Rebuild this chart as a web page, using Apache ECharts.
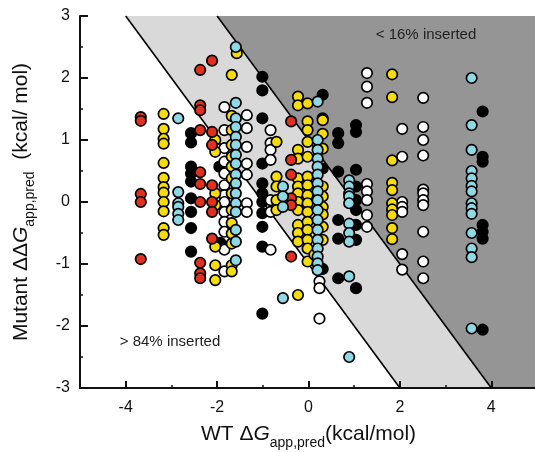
<!DOCTYPE html>
<html>
<head>
<meta charset="utf-8">
<script src="https://cdn.jsdelivr.net/npm/echarts@6/dist/echarts.min.js"></script>
<style>
html, body { margin: 0; padding: 0; background: #fff; }
#chart { width: 535px; height: 452px; }
</style>
</head>
<body>
<div id="chart"></div>
<script>
// one column = one WT residue (same x), several mutants (y)
const col = (x, ys) => ys.map(y => [x, y]);

const redPts = [
    ...col(-3.67, [1.37, 1.31, 0.13, 0.0, -0.92]),
    ...col(-2.37, [2.13, 1.56, 1.48, 1.16, 0.48, 0.29, 0.0, -0.98, -1.15, -1.23]),
    ...col(-2.11, [2.28, 1.13, 0.92, 0.27, 0.0, -0.16, -0.59]),
    ...col(-0.38, [1.30, 0.68, 0.44, 0.06, -0.05, -0.88])
];

const yellowPts = [
    ...col(-3.17, [1.42, 1.18, 1.02, 0.94, 0.63, 0.39, 0.24, 0.15, 0.0, -0.15, -0.42, -0.53]),
    ...col(-2.04, [1.0, 0.81, 0.14, -0.05, -0.72, -1.02, -1.26]),
    ...col(-1.68, [2.05, 1.39, 1.16, 0.92, 0.73, 0.57, 0.38, 0.14, -0.13, -0.34, -0.51, -0.67, -1.02, -1.12]),
    [-1.57, 2.40],
    ...col(-0.70, [0.97, 0.41, 0.25, 0.03, -0.13]),
    ...col(-0.23, [1.70, 1.56, 0.84, 0.70, 0.38, 0.25, 0.14, 0.0, -0.13, -0.37, -0.50, -0.64, -1.50]),
    ...col(-0.02, [1.59, 1.30, 1.16, 0.97, 0.73, 0.41, 0.27, 0.11, -0.02, -0.16, -0.32, -0.45, -0.61, -0.75, -0.96]),
    ...col(0.31, [1.32, 1.10, 0.86, 0.25, 0.09, -0.08, -0.20, -0.40, -0.61]),
    [0.13, -0.85],
    ...col(1.83, [2.06, 1.69, 0.67, 0.31, 0.19, -0.02, -0.12, -0.21, -0.42, -0.60])
];

const bluePts = [
    ...col(-2.85, [1.35, 0.16, -0.02, -0.08, -0.19, -0.29]),
    ...col(-1.59, [2.50, 1.60, 1.35, 1.21, 1.05, 0.92, 0.76, 0.62, 0.44, 0.30, 0.14, -0.02, -0.16, -0.45, -0.64, -0.94]),
    ...col(-0.56, [0.25, 0.09, -0.08, -1.55]),
    ...col(0.20, [1.62, 1.0, 0.84, 0.70, 0.57, 0.44, 0.30, 0.17, 0.03, -0.13, -0.29, -0.45, -0.61, -0.75, -0.88, -0.99, -1.10]),
    ...col(0.89, [0.35, 0.25, 0.14, 0.09, -0.02, -0.35, -0.50, -0.64, -1.20, -2.50]),
    ...col(3.57, [2.0, 1.24, 0.84, 0.50, 0.38, 0.26, 0.17, -0.02, -0.10, -0.19, -0.50, -0.75, -0.89, -2.04])
];

const whitePts = [
    ...col(-1.84, [1.53, 1.16, 0.87, 0.65, 0.46, 0.27, 0.11, 0.0, -0.16, -0.32, -0.48, -0.77, -1.12]),
    ...col(-1.35, [1.40, 1.19, 0.89, 0.62, 0.44, -0.02, -0.16]),
    ...col(-0.83, [1.16, 0.95, 0.84, 0.68, 0.03, -0.16, -0.77]),
    ...col(0.24, [-1.28, -1.39, -1.88]),
    ...col(1.28, [2.08, 1.86, 1.60, 0.29, 0.17, 0.03, -0.21, -0.40]),
    ...col(2.05, [1.18, 0.73, 0.0, -0.08, -0.16, -0.84, -1.09]),
    ...col(2.51, [1.68, 1.21, 1.0, 0.75, 0.20, 0.14, 0.03, -0.05, -0.48, -0.96, -1.23])
];

const blackPts = [
    ...col(-2.57, [1.11, 0.96, 0.57, 0.46, 0.33, 0.06, -0.16, -0.42, -0.80]),
    [-1.95, 0.57], [-1.93, -0.66],
    ...col(-1.01, [2.02, 1.80, 1.35, 0.62, 0.30, 0.14, 0.0, -0.18, -0.40, -0.72, -1.80]),
    ...col(0.31, [1.73, 1.35, 0.54, -1.08]),
    ...col(0.65, [1.11, 0.95, 0.49, -0.29, -0.59, -1.23]),
    ...col(1.04, [1.24, 1.13, 0.52, 0.25, 0.03, -0.13, -0.37, -0.61, -1.39]),
    ...col(3.81, [1.46, 0.73, 0.65, -0.37, -0.48, -0.59, -2.06])
];

// shaded zones (x + y > 1 dark, -1 < x + y < 1 light)
const darkZone = [[-2, 3], [5, 3], [5, -3], [4, -3]];
const lightZone = [[-4, 3], [-2, 3], [4, -3], [2, -3]];
const lowerLine = [[-4, 3], [2, -3]];
const upperLine = [[-2, 3], [4, -3]];

const xLabelTicks = [-4, -2, 0, 2, 4];
const xMinorTicks = [-3, -1, 1, 3];

const FONT = '"Liberation Sans", Arial, Helvetica, sans-serif';

const titleRich = {
    n: { fontSize: 21, fontFamily: FONT, color: '#111', lineHeight: 32, verticalAlign: 'middle' },
    i: { fontSize: 21, fontFamily: FONT, color: '#111', fontStyle: 'italic', lineHeight: 32, verticalAlign: 'middle' },
    s: { fontSize: 14, fontFamily: FONT, color: '#111', lineHeight: 32, verticalAlign: 'bottom' }
};

const dot = (name, pts, color) => ({
    name: name,
    type: 'scatter',
    data: pts,
    symbol: 'circle',
    symbolSize: 10.5,
    itemStyle: { color: color, borderColor: '#000', borderWidth: 1.7, opacity: 1 },
    z: 3
});

const zonePolygon = (api, pts, fill) => ({
    type: 'polygon',
    shape: { points: pts.map(p => api.coord(p)) },
    style: { fill: fill }
});

const chart = echarts.init(document.getElementById('chart'));

const option = {
    animation: false,
    backgroundColor: '#fff',
    grid: { left: 80, right: -2, top: 16, bottom: 64, containLabel: false, outerBoundsMode: 'none' },
    xAxis: [
        {
            type: 'value', min: -5, max: 5,
            nameLocation: 'middle', nameGap: 30,
            name: '{n|WT Δ}{i|G}{s|app,pred}{n|(kcal/mol)}',
            nameTextStyle: { color: '#111', fontFamily: FONT, rich: titleRich },
            axisLine: { show: true, onZero: false, lineStyle: { color: '#111', width: 2 } },
            axisTick: { show: true, inside: true, length: 7, customValues: xLabelTicks, lineStyle: { color: '#111', width: 2 } },
            axisLabel: { customValues: xLabelTicks, color: '#111', fontSize: 16, fontFamily: FONT, margin: 12 },
            splitLine: { show: false }
        },
        {
            type: 'value', min: -5, max: 5, position: 'bottom',
            axisLine: { show: false, onZero: false },
            axisTick: { show: true, inside: true, length: 3, customValues: xMinorTicks, lineStyle: { color: '#111', width: 1.5 } },
            axisLabel: { show: false },
            splitLine: { show: false }
        }
    ],
    yAxis: {
        type: 'value', min: -3, max: 3, interval: 1,
        nameLocation: 'middle', nameGap: 43,
        name: '{n|Mutant ΔΔ}{i|G}{s|app,pred}{n|  (kcal/ mol)}',
        nameTextStyle: { color: '#111', fontFamily: FONT, rich: titleRich },
        axisLine: { show: true, onZero: false, lineStyle: { color: '#111', width: 2 } },
        axisTick: { show: true, inside: true, length: 8, lineStyle: { color: '#111', width: 2 } },
        minorTick: { show: true, splitNumber: 2, length: 3, lineStyle: { color: '#111', width: 1.5 } },
        axisLabel: { color: '#111', fontSize: 16, fontFamily: FONT, margin: 10 },
        splitLine: { show: false }
    },
    graphic: [
        { type: 'text', x: 426, y: 35, z: 10, style: { text: '< 16% inserted', fill: '#222', font: '15px ' + FONT, textAlign: 'center', textVerticalAlign: 'middle' } },
        { type: 'text', x: 170, y: 342, z: 10, style: { text: '> 84% inserted', fill: '#222', font: '15px ' + FONT, textAlign: 'center', textVerticalAlign: 'middle' } }
    ],
    series: [
        {
            type: 'custom',
            silent: true,
            clip: true,
            z: 0,
            data: [0],
            renderItem: (params, api) => ({
                type: 'group',
                children: [
                    zonePolygon(api, darkZone, '#959595'),
                    zonePolygon(api, lightZone, '#d9d9d9')
                ]
            })
        },
        {
            type: 'line', data: lowerLine, symbol: 'none', silent: true, z: 1,
            lineStyle: { color: '#000', width: 1.6 }
        },
        {
            type: 'line', data: upperLine, symbol: 'none', silent: true, z: 1,
            lineStyle: { color: '#000', width: 1.6 }
        },
        dot('black', blackPts, '#000000'),
        dot('white', whitePts, '#ffffff'),
        dot('yellow', yellowPts, '#f6dc0a'),
        dot('red', redPts, '#e2301f'),
        dot('blue', bluePts, '#8fd9e6')
    ]
};

chart.setOption(option);
</script>
</body>
</html>
